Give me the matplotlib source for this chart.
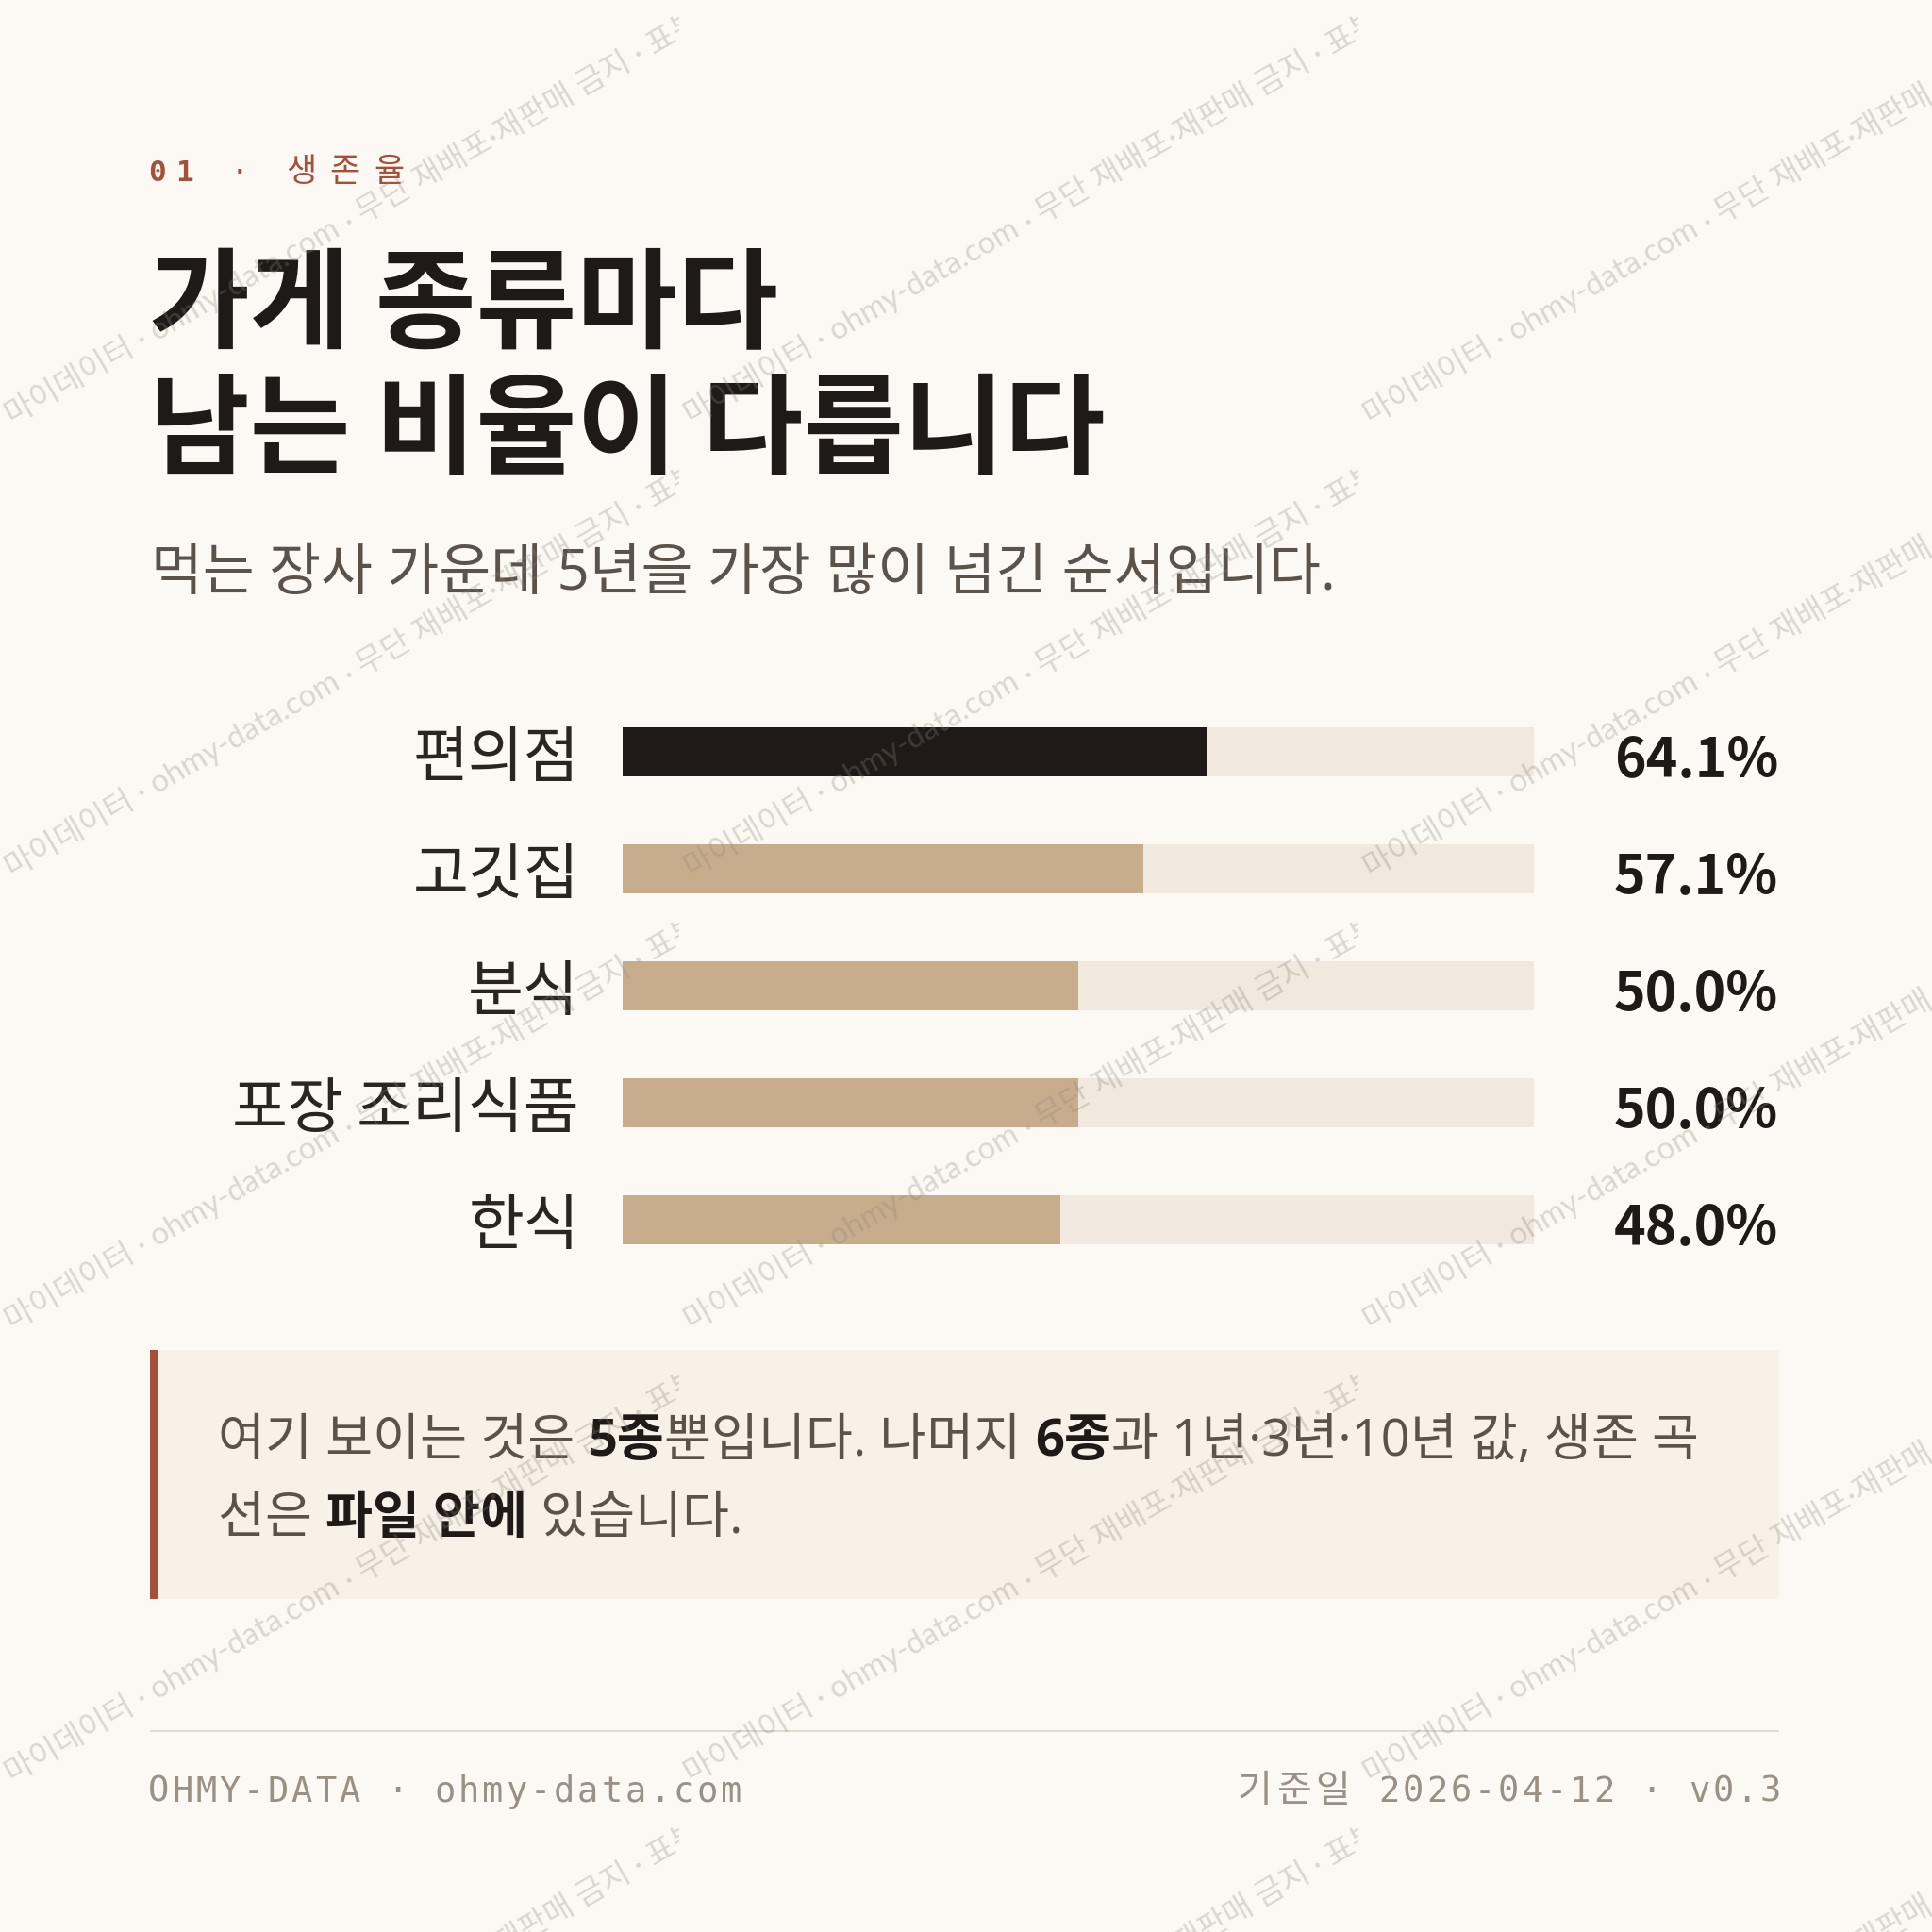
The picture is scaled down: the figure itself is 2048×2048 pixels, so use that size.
import matplotlib
matplotlib.use("Agg")
import matplotlib.pyplot as plt
import matplotlib.transforms as mtransforms
from matplotlib.patches import Rectangle
import numpy as np

# ---------------- data ----------------
categories = ["편의점", "고깃집", "분식", "포장 조리식품", "한식"]
survival_5y = [64.1, 57.1, 50.0, 50.0, 48.0]
highlight = [True, False, False, False, False]
scale_max = 100

eyebrow_num = "01"
eyebrow_label = "생존율"
title_lines = ["가게 종류마다", "남는 비율이 다릅니다"]
subtitle = "먹는 장사 가운데 5년을 가장 많이 넘긴 순서입니다."
note_lines = [
    [("여기 보이는 것은 ", False), ("5종", True), ("뿐입니다. 나머지 ", False),
     ("6종", True), ("과 1년·3년·10년 값, 생존 곡", False)],
    [("선은 ", False), ("파일 안에", True), (" 있습니다.", False)],
]
footer_left = "OHMY-DATA · ohmy-data.com"
footer_right_kr = "기준일"
footer_right = "2026-04-12 · v0.3"
wm_left = "금지 · 마이데이터 · ohmy-data.com"
wm_right = "무단 재배포·재판매 금지 · 표본"

# ---------------- style ----------------
BG = "#fcf9f4"
INK = "#1f1a17"
LABEL = "#2b2520"
SUB = "#5b524a"
RUST = "#a4503a"
TAN = "#c8ad8c"
TRACK = "#f1e9dd"
NOTE_BG = "#f8f1e7"
FOOT = "#9b9084"
RULE = "#e2d9cc"

KR = ['Noto Sans CJK KR', 'DejaVu Sans']
BODY = ['Open Sans', 'Noto Sans CJK KR', 'DejaVu Sans']
WMF = ['Lato', 'Noto Sans CJK KR', 'DejaVu Sans']
MONO = ['DejaVu Sans Mono', 'Noto Sans CJK KR']
plt.rcParams['font.family'] = KR

W = 2048
DPI = 100


def pt(px):
    return px * 72.0 / DPI


fig = plt.figure(figsize=(W / DPI, W / DPI), dpi=DPI)
fig.patch.set_facecolor(BG)

bg = fig.add_axes([0, 0, 1, 1])
bg.set_xlim(0, W)
bg.set_ylim(W, 0)
bg.axis('off')
bg.set_zorder(0)

renderer = fig.canvas.get_renderer()


def adv(s, **kw):
    t1 = bg.text(0, 0, "|" + s + "|", **kw)
    w1 = t1.get_window_extent(renderer).width
    t1.remove()
    t2 = bg.text(0, 0, "||", **kw)
    w2 = t2.get_window_extent(renderer).width
    t2.remove()
    return w1 - w2


def spaced(x, y, text, mono_px, kr_px, sp, kr_adv, color, bold_chars=0,
           align='left'):
    items = []
    for k, c in enumerate(text):
        is_kr = ord(c) > 0x2E80
        a = kr_adv if is_kr else 0.602 * mono_px + sp
        items.append((c, is_kr, a, k < bold_chars))
    total = sum(i[2] for i in items) - sp
    if align == 'right':
        x = x - total
    cx = x
    for c, is_kr, a, b in items:
        if c != " ":
            if is_kr:
                bg.text(cx, y, c, family=KR, fontsize=pt(kr_px), color=color,
                        ha='left', va='baseline')
            else:
                bg.text(cx, y, c, family=MONO, fontsize=pt(mono_px), color=color,
                        ha='left', va='baseline',
                        fontweight='bold' if b else 'normal')
        cx += a


# eyebrow
spaced(157, 192, eyebrow_num + " · " + eyebrow_label, 31, 35, 10.5, 46.5, RUST,
       bold_chars=2)

# title
title_base = [360, 492]
for line, yb in zip(title_lines, title_base):
    bg.text(158, yb, line, fontsize=pt(116), fontweight='bold', color=INK,
            family=KR, ha='left', va='baseline')

# subtitle
bg.text(160, 625, subtitle, fontsize=pt(59.6), color=SUB, family=BODY,
        ha='left', va='baseline')

# note box
bg.add_patch(Rectangle((159, 1431), 1886 - 159, 1695 - 1431, facecolor=NOTE_BG,
                       edgecolor='none', zorder=1))
bg.add_patch(Rectangle((159, 1431), 8, 1695 - 1431, facecolor=RUST,
                       edgecolor='none', zorder=2))
note_base = [1543, 1625]
for segs, yb in zip(note_lines, note_base):
    x = 231
    for s, b in segs:
        kw = dict(fontsize=pt(54.3), fontweight='bold' if b else 'normal',
                  color=INK if b else SUB, family=BODY)
        bg.text(x, yb, s, ha='left', va='baseline', zorder=3, **kw)
        x += adv(s, **kw)

# footer
bg.plot([159, 1886], [1835, 1835], color=RULE, lw=pt(2), solid_capstyle='butt')
spaced(157, 1910, footer_left, 37, 36, 3, 39, FOOT)
spaced(1888, 1910, footer_right_kr + " " + footer_right, 37, 40, 3, 41.5, FOOT,
       align='right')

# ---------------- bars ----------------
row_top, row_bot = 735, 1355
bx0, bx1 = 660, 1626
ax = fig.add_axes([bx0 / W, 1 - row_bot / W, (bx1 - bx0) / W, (row_bot - row_top) / W])
ax.set_zorder(1)
ax.patch.set_alpha(0)
n = len(categories)
y = np.arange(n)
ax.set_xlim(0, scale_max)
ax.set_ylim(n - 0.5, -0.5)
bar_h = 52 / 124
ax.barh(y, [scale_max] * n, height=bar_h, color=TRACK, zorder=1)
ax.barh(y, survival_5y, height=bar_h,
        color=[INK if h else TAN for h in highlight], zorder=2)
ax.set_yticks(y, categories)
ax.set_xticks([])
ax.tick_params(axis='y', length=0, pad=pt(46), labelsize=pt(64), labelcolor=LABEL)
for s in ax.spines.values():
    s.set_visible(False)
blend = mtransforms.blended_transform_factory(ax.transAxes, ax.transData)
for i, v in enumerate(survival_5y):
    ax.text((1885 - bx0) / (bx1 - bx0), i + 27 / 124, f"{v:.1f}%", transform=blend,
            ha='right', va='baseline', fontsize=pt(57), fontweight='bold',
            color=INK, family=KR, clip_on=False)

# ---------------- watermark ----------------
wm = fig.add_axes([0, 0, 1, 1])
wm.set_xlim(0, W)
wm.set_ylim(W, 0)
wm.axis('off')
wm.patch.set_alpha(0)
wm.set_zorder(5)
TW, TH = 720, 480
ang = np.deg2rad(30)
u = np.array([np.cos(ang), -np.sin(ang)])
nrm = np.array([np.sin(ang), np.cos(ang)])
wm_px = 33
wkw = dict(fontsize=pt(wm_px), color='#8c847c', alpha=0.30, rotation=30,
           rotation_mode='anchor', va='baseline', family=WMF, clip_on=True)
for tx in range(0, W, TW):
    for ty in range(0, W, TH):
        c = np.array([tx + TW / 2, ty + TH / 2])
        base = c + 0.28 * wm_px * nrm + 11 * u
        gap = 0.40 * wm_px
        pL = base - gap * u
        pR = base + gap * u
        for p, s, ha in [(pL, wm_left, 'right'), (base, "·", 'center'),
                         (pR, wm_right, 'left')]:
            t = wm.text(p[0], p[1], s, ha=ha, **wkw)
            t.set_clip_path(Rectangle((tx, ty), TW, TH, transform=wm.transData))

fig.savefig("out.png", dpi=DPI, facecolor=BG)
